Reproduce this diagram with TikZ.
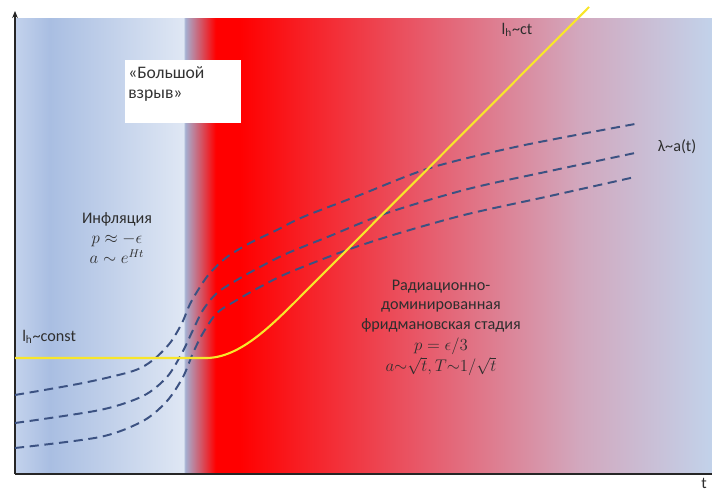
\documentclass[tikz,border=0pt]{standalone}
\usepackage{fontspec}
\setmainfont{Carlito}
\usetikzlibrary{arrows.meta}
\definecolor{blueedge}{HTML}{C3D2EC}
\definecolor{bluedeep}{HTML}{A9BEE2}
\definecolor{bluepale}{HTML}{DFE7F4}
\definecolor{bluegrey}{HTML}{A4B0D2}
\definecolor{hotred}{HTML}{FF0000}
\definecolor{warmred}{HTML}{E85868}
\definecolor{dustypink}{HTML}{D2A8BE}
\definecolor{coolblue}{HTML}{C2D2EA}
\definecolor{wavecol}{HTML}{3C5282}
\definecolor{horizon}{HTML}{F8E62A}
\definecolor{textdark}{HTML}{2E2E2E}
% 25bp..75bp is stretched over the plotted band (x = 15..712)
\pgfdeclarehorizontalshading{cosmos}{100bp}{color(0bp)=(blueedge); color(25bp)=(blueedge); color(27.5bp)=(bluedeep); color(37.1bp)=(bluepale); color(37.2bp)=(bluegrey); color(39.4bp)=(hotred); color(41.1bp)=(hotred); color(54bp)=(warmred); color(65.5bp)=(dustypink); color(75bp)=(coolblue); color(100bp)=(coolblue)}

\begin{document}
\begin{tikzpicture}[x=0.025cm, y=-0.025cm,
    wave/.style={dash pattern=on 6.5pt off 4pt, line width=1.4pt, color=wavecol},
    hline/.style={line width=1.5pt, color=horizon},
    axisline/.style={line width=1pt, color=black!85},
    label/.style={font=\fontsize{11.5}{14}\selectfont, text=textdark, align=center, inner sep=0pt}
]
\useasboundingbox (0,0) rectangle (712,492);

% background
\shade[shading=cosmos] (15,19) rectangle (712,474);

% white box
\node[fill=white, minimum width=116*0.025cm, minimum height=63*0.025cm, inner sep=0pt] (bang) at (183,91.5) {};
\node[label, align=left, anchor=north west, text=black!80, font=\fontsize{12.5}{14.5}\selectfont] (bangtext) at (128,66) {«Большой\\взрыв»};

% axes
\coordinate (origin) at (15,474);
\coordinate (ytop) at (15,11);
\coordinate (xend) at (712,474);
\draw[axisline, -{Stealth[length=5pt, width=4pt]}] (origin) -- (ytop);
\draw[axisline] (origin) -- (xend);
\node[label, anchor=south east] (tlabel) at (707,489) {t};

% wavelengths
\draw[wave] plot[smooth] coordinates {(15,395) (83,383) (133,371) (153,360) (170,343) (182,323) (190,304) (200,287) (210,273) (227,257) (250,243) (277,230) (303,217) (360,195) (430,168) (520,146) (635,124)};
\draw[wave] plot[smooth] coordinates {(15,423) (100,410) (143,396) (167,377) (182,353) (193,330) (203,310) (217,293) (237,280) (260,267) (288,253) (330,236) (387,213) (468,189) (550,171) (635,153)};
\draw[wave] plot[smooth] coordinates {(15,448) (100,437) (143,421) (167,401) (183,377) (193,353) (203,333) (217,313) (237,300) (260,287) (288,273) (347,250) (403,232) (468,214) (550,196) (635,177)};

% horizon
\coordinate (hstart) at (15,358);
\coordinate (hbend) at (206,358);
\coordinate (hline) at (297,300);
\coordinate (hend) at (589,7);
\draw[hline] (hstart) -- (hbend) .. controls (238,358) and (268,329) .. (hline) -- (hend);

% labels
\node[label, anchor=west] (constlabel) at (22,337) {l\textsubscript{h}\textasciitilde const};
\node[label] (ctlabel) at (517,30) {l\textsubscript{h}\textasciitilde ct};
\node[label] (lambdalabel) at (677,147) {λ\textasciitilde a(t)};
\node[label] (infl) at (117,238) {Инфляция\\$p\approx-\epsilon$\\$a\sim e^{Ht}$};
\node[label] (rad) at (441,328) {Радиационно-\\доминированная\\фридмановская стадия\\[1pt]$p=\epsilon/3$\\[1pt]$a{\sim}\sqrt{t},T{\sim}1/\sqrt{t}$};
\end{tikzpicture}
\end{document}
